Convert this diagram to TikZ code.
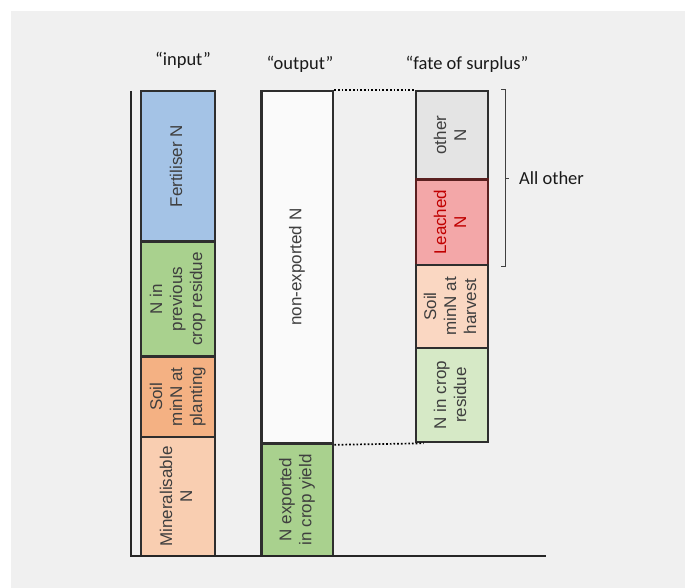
\documentclass[tikz,border=0pt]{standalone}
\usepackage{fontspec}
\usepackage{graphicx}
\setmainfont{Liberation Sans}
\newfontfamily\headfont{Carlito}

\definecolor{bggray}{HTML}{F0F0F0}
\definecolor{segline}{HTML}{2E2E2E}
\definecolor{segtext}{HTML}{3F3F3F}
\definecolor{fertblue}{HTML}{A4C3E6}
\definecolor{resgreen}{HTML}{A9D18E}
\definecolor{plantorange}{HTML}{F4B183}
\definecolor{minpeach}{HTML}{F9CEB1}
\definecolor{othergray}{HTML}{E4E4E4}
\definecolor{leachpink}{HTML}{F3A7A8}
\definecolor{leachred}{HTML}{C00000}
\definecolor{harvpeach}{HTML}{FAD7C2}
\definecolor{cropgreen}{HTML}{D6E9C6}

\newcommand{\vlabel}[1]{\rotatebox{90}{\begin{tabular}{@{}c@{}}#1\end{tabular}}}

\begin{document}
\begin{tikzpicture}[x=1pt, y=-1pt,
    seg/.style={draw=segline, line width=2.6pt, inner sep=0pt, text=segtext,
      font=\fontsize{17}{20}\selectfont},
    head/.style={font=\headfont\fontsize{18.5}{21}\selectfont, text=black!90},
    axis/.style={line width=2pt, draw=black!85},
    brace/.style={line width=1.1pt, draw=black!75}]
      \useasboundingbox (0,0) rectangle (685,588);
      \fill[white] (0,0) rectangle (685,588);
      \fill[bggray] (11,11) rectangle (685,588);

      \node[head] (hinput) at (183,60) {“input”};
      \node[head] (houtput) at (300,64) {“output”};
      \node[head] (hfate) at (467,64) {“fate of surplus”};

      \node[seg, fill=fertblue, minimum width=74pt, minimum height=150.5pt] (fert) at (178,166.25) {\vlabel{Fertiliser N}};
      \node[seg, fill=resgreen, minimum width=74pt, minimum height=115pt] (prevres) at (178,299) {\vlabel{N in\\previous\\crop residue}};
      \node[seg, fill=plantorange, minimum width=74pt, minimum height=80.5pt] (soilplant) at (178,396.75) {\vlabel{Soil\\minN at\\planting}};
      \node[seg, fill=minpeach, minimum width=74pt, minimum height=119pt] (mineral) at (178,496.5) {\vlabel{Mineralisable\\N}};

      \node[seg, fill=white!98!black, minimum width=71.5pt, minimum height=352.5pt] (nonexp) at (297.25,267.25) {\vlabel{non-exported N}};
      \node[seg, fill=resgreen, minimum width=71.5pt, minimum height=112.5pt] (exported) at (297.25,499.75) {\vlabel{N exported\\in crop yield}};

      \node[seg, fill=othergray, minimum width=72pt, minimum height=88.5pt] (other) at (452,135.25) {\vlabel{other\\N}};
      \node[seg, fill=leachpink, text=leachred, draw=segline!70!leachred, minimum width=72pt, minimum height=85.5pt] (leached) at (452,222.25) {\vlabel{Leached\\N}};
      \node[seg, fill=harvpeach, minimum width=72pt, minimum height=83pt] (soilharv) at (452,306.5) {\vlabel{Soil\\minN at\\harvest}};
      \node[seg, fill=cropgreen, minimum width=72pt, minimum height=94pt] (cropres) at (452,395) {\vlabel{N in crop\\residue}};

      \draw[dotted, line width=1.7pt] (nonexp.north east) -- (other.north west);
      \draw[dotted, line width=1.7pt] (nonexp.south east) -- ([xshift=9pt]cropres.south west);

      \draw[brace] ([xshift=12pt]other.north east) -- ++(4,0) coordinate (bt) -- (bt |- leached.south) -- ++(-4,0);
      \draw[brace] (bt |- leached.north) -- ++(4,0) node[head, anchor=west, xshift=6pt] (allother) {All other};

      \draw[axis] (131,91) -- (131,556) -- (546,556);
    \end{tikzpicture}
\end{document}
